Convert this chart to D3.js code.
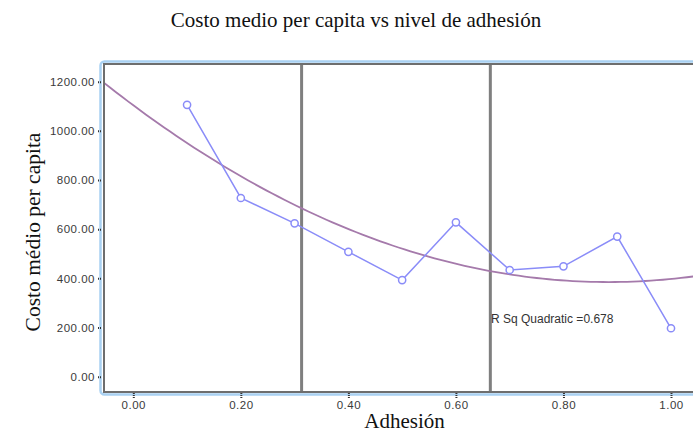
<!DOCTYPE html>
<html lang="es">
<head>
<meta charset="UTF-8">
<title>Costo medio per capita</title>
<style>
    body { margin: 0; background: #fff; }
    .tick text { font-family: "Liberation Sans", Arial, sans-serif; font-size: 11.5px; letter-spacing: 0.5px; fill: #3a3a3a; }
    .serif { font-family: "Liberation Serif", "Times New Roman", serif; fill: #111; }
</style>
</head>
<body>
<div class="canvas"></div>
<script src="https://d3js.org/d3.v7.min.js"></script>
<script>
    // data
    const adhesion = [0.1, 0.2, 0.3, 0.4, 0.5, 0.6, 0.7, 0.8, 0.9, 1.0];
    const costo = [1106, 727, 624, 508, 393, 628, 434, 449, 570, 197];
    const cutLines = [0.313, 0.664];
    const xTicks = [0, 0.2, 0.4, 0.6, 0.8, 1.0];
    const yTicks = [0, 200, 400, 600, 800, 1000, 1200];
    const rsqLabel = 'R Sq Quadratic =0.678';

    const W = 693, H = 434;
    const plot = { left: 104, top: 64, right: 705, bottom: 392 };

    const svg = d3.select('.canvas').append('svg')
        .attr('width', W).attr('height', H);

    const x = d3.scaleLinear().domain([0, 1]).range([133.3, 671]);
    const y = d3.scaleLinear().domain([0, 1200]).range([376.7, 81.7]);

    // quadratic least squares fit (same as the SPSS fit line)
    const fit = (() => {
        let s = [0, 0, 0, 0, 0], t = [0, 0, 0];
        adhesion.forEach((xi, i) => {
            for (let k = 0; k < 5; k++) s[k] += Math.pow(xi, k);
            for (let k = 0; k < 3; k++) t[k] += Math.pow(xi, k) * costo[i];
        });
        const M = [[s[0], s[1], s[2], t[0]], [s[1], s[2], s[3], t[1]], [s[2], s[3], s[4], t[2]]];
        for (let i = 0; i < 3; i++) {
            for (let j = i + 1; j < 3; j++) {
                const f = M[j][i] / M[i][i];
                for (let k = i; k < 4; k++) M[j][k] -= f * M[i][k];
            }
        }
        const c = [0, 0, 0];
        for (let i = 2; i >= 0; i--) {
            let v = M[i][3];
            for (let k = i + 1; k < 3; k++) v -= M[i][k] * c[k];
            c[i] = v / M[i][i];
        }
        return xv => c[0] + c[1] * xv + c[2] * xv * xv;
    })();

    // frame
    svg.append('rect')
        .attr('x', plot.left - 3.5).attr('y', plot.top - 2.5)
        .attr('width', plot.right - plot.left + 10).attr('height', plot.bottom - plot.top + 5)
        .attr('rx', 4)
        .attr('fill', 'none').attr('stroke', '#a9d1f2').attr('stroke-width', 2.5);

    svg.append('rect')
        .attr('x', plot.left).attr('y', plot.top)
        .attr('width', plot.right - plot.left).attr('height', plot.bottom - plot.top)
        .attr('fill', '#fff').attr('stroke', '#6e6e6e').attr('stroke-width', 2);

    svg.append('defs').append('clipPath').attr('id', 'clip')
        .append('rect')
        .attr('x', plot.left + 1).attr('y', plot.top + 1)
        .attr('width', plot.right - plot.left).attr('height', plot.bottom - plot.top - 2);

    // axes
    const yAxis = d3.axisLeft(y).tickValues(yTicks).tickFormat(d3.format('.2f')).tickSize(4).tickPadding(2);
    const gy = svg.append('g').attr('transform', `translate(${plot.left - 3},0)`).call(yAxis);
    gy.select('.domain').remove();
    gy.selectAll('.tick line').attr('stroke', '#333').attr('stroke-width', 2).attr('stroke-dasharray', '1,1');

    const xAxis = d3.axisBottom(x).tickValues(xTicks).tickFormat(d3.format('.2f')).tickSize(5).tickPadding(3);
    const gx = svg.append('g').attr('transform', `translate(0,${plot.bottom + 1})`).call(xAxis);
    gx.select('.domain').remove();
    gx.selectAll('.tick line').attr('stroke', '#333').attr('stroke-width', 2).attr('stroke-dasharray', '1,1');

    const graph = svg.append('g').attr('clip-path', 'url(#clip)');

    // reference lines
    graph.selectAll('.cut').data(cutLines).enter().append('line')
        .attr('x1', d => x(d)).attr('x2', d => x(d))
        .attr('y1', plot.top).attr('y2', plot.bottom)
        .attr('stroke', '#7f7f7f').attr('stroke-width', 3);

    // fit curve
    const x0 = x.invert(plot.left), x1 = x.invert(plot.right);
    const curvePts = d3.range(0, 101).map(i => x0 + (x1 - x0) * i / 100);
    graph.append('path')
        .datum(curvePts)
        .attr('d', d3.line().x(d => x(d)).y(d => y(fit(d))))
        .attr('fill', 'none').attr('stroke', '#a57aab').attr('stroke-width', 1.8);

    // observed means
    const pts = adhesion.map((a, i) => ({ a: a, c: costo[i] }));
    graph.append('path')
        .datum(pts)
        .attr('d', d3.line().x(d => x(d.a)).y(d => y(d.c)))
        .attr('fill', 'none').attr('stroke', '#8a8cf8').attr('stroke-width', 1.5);

    graph.selectAll('circle').data(pts).enter().append('circle')
        .attr('cx', d => x(d.a)).attr('cy', d => y(d.c)).attr('r', 3.6)
        .attr('fill', '#fff').attr('stroke', '#8a8cf8').attr('stroke-width', 1.5);

    svg.append('text')
        .attr('x', 491).attr('y', 323)
        .style('font-family', '"Liberation Sans", Arial, sans-serif')
        .style('font-size', '12px').attr('fill', '#333')
        .text(rsqLabel);

    // titles
    svg.append('text').attr('class', 'serif')
        .attr('x', 356).attr('y', 27).attr('text-anchor', 'middle')
        .style('font-size', '21px')
        .text('Costo medio per capita vs nivel de adhesión');

    svg.append('text').attr('class', 'serif')
        .attr('x', 404.5).attr('y', 428).attr('text-anchor', 'middle')
        .style('font-size', '21px')
        .text('Adhesión');

    svg.append('text').attr('class', 'serif')
        .attr('transform', 'translate(40,232) rotate(-90)')
        .attr('text-anchor', 'middle')
        .style('font-size', '21.5px')
        .text('Costo médio per capita');
</script>
</body>
</html>
